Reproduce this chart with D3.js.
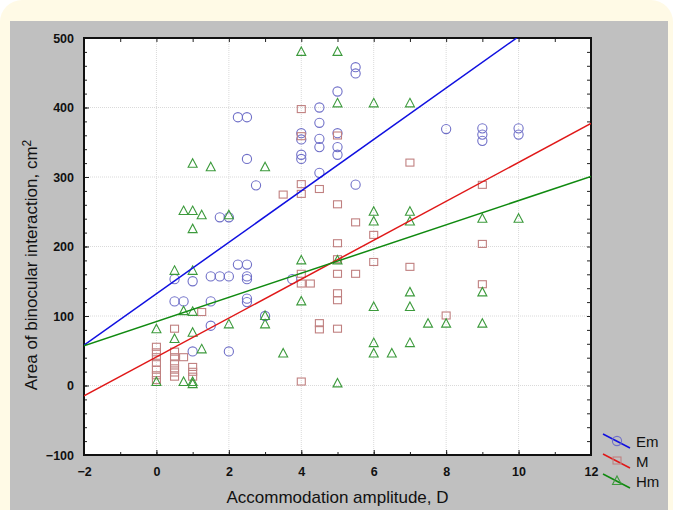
<!DOCTYPE html>
<html>
<head>
<meta charset="utf-8">
<script src="https://d3js.org/d3.v7.min.js"></script>
<style>
  body { margin: 0; background: #fff; }
  svg { display: block; font-family: "Liberation Sans", Arial, sans-serif; }
</style>
</head>
<body>
<div id="chart"></div>
<script>
// data: [accommodation amplitude D, area cm2]
var emPoints = [
  [0.5,153],[1,150],[1.5,157],[1.75,157],[2,157],[2.25,174],[2.5,174],[2.5,157],[2.5,153],
  [0.5,121],[0.75,121],[1.5,121],[2.5,125],[2.5,120],[1.5,86],[3,100],[1,49],[2,49],
  [2.25,386],[2.5,386],[2.5,326],[2.75,288],[1.75,242],[2,242],
  [5.5,458],[5.5,449],[5,423],[4.5,400],[4.5,378],[4,363],[4,354],[4.5,355],[4.5,343],
  [5,363],[5,343],[5,332],[4,332],[4,326],[4.5,306],[5.5,289],[3.75,153],
  [8,369],[9,370],[9,361],[9,352],[10,370],[10,361]
];
var mPoints = [
  [0,55],[0,47],[0,40],[0,32],[0,22],[0,14],[0,7],
  [0.5,81],[0.5,48],[0.5,40],[0.5,31],[0.5,24],[0.5,18],[0.5,12],
  [0.75,40],[1,26],[1,19],[1,12],[1.25,105],
  [4,397],[4,358],[5,359],[7,320],[4,289],[4,275],[3.5,274],[4.5,282],[5,260],
  [5.5,234],[6,216],[5,204],[5,181],[6,177],[7,170],[5,160],[5.5,160],[4,160],
  [4,146],[4.25,146],[5,132],[5,122],[4.5,89],[4.5,80],[5,81],[4,5],
  [9,203],[9,145],[8,100],[9,288]
];
var hmPoints = [
  [1,319],[1.5,314],[3,314],[0.75,251],[1,251],[1.25,245],[2,245],[1,225],
  [4,480],[5,480],[5,406],[6,406],[7,406],
  [6,250],[6,236],[7,250],[7,236],[4,180],[5,180],[4,121],[6,113],[7,134],[7,113],
  [6,61],[6,46],[6.5,46],[7,61],[3.5,46],[5,3],
  [9,134],[7.5,89],[8,89],[9,89],[9,240],[10,240],
  [0.5,165],[1,165],[0.75,107],[1,106],[0,81],[0.5,67],[1,76],[1.25,52],[2,88],
  [3,100],[3,88],[0,5],[0.75,5],[1,5],[1,2]
];
// fitted lines: [intercept, slope]
var emFit = [132, 37];
var mFit = [41, 28];
var hmFit = [92, 17.4];

var seriesNames = ["Em", "M", "Hm"];
var xTicks = [-2, 0, 2, 4, 6, 8, 10, 12];
var yTicks = [-100, 0, 100, 200, 300, 400, 500];

var W = 673, H = 510;
var margin = {left: 84, top: 38, right: 82, bottom: 55};

var svg = d3.select("#chart").append("svg")
  .attr("width", W).attr("height", H);

// cream page with rounded top, grey panel
svg.append("rect").attr("x", 0).attr("y", 0).attr("width", W).attr("height", H + 30)
  .attr("rx", 22).attr("fill", "#fffae6");
svg.append("rect").attr("x", 10).attr("y", 21).attr("width", 658).attr("height", H)
  .attr("fill", "#c0c0c0");

var x = d3.scaleLinear().domain([-2, 12]).range([margin.left, W - margin.right]);
var y = d3.scaleLinear().domain([-100, 500]).range([H - margin.bottom, margin.top]);

// plot background
svg.append("rect")
  .attr("x", x(-2)).attr("y", y(500))
  .attr("width", x(12) - x(-2)).attr("height", y(-100) - y(500))
  .attr("fill", "#fff");

// dotted grid
var grid = svg.append("g").attr("stroke", "#dadada").attr("stroke-dasharray", "1,1");
grid.selectAll("line.gx").data(xTicks.slice(1, -1)).enter().append("line")
  .attr("x1", function(d) { return x(d); }).attr("x2", function(d) { return x(d); })
  .attr("y1", y(500)).attr("y2", y(-100));
grid.selectAll("line.gy").data(yTicks.slice(1, -1)).enter().append("line")
  .attr("y1", function(d) { return y(d); }).attr("y2", function(d) { return y(d); })
  .attr("x1", x(-2)).attr("x2", x(12));

// axes with inward ticks on all four sides
function styleAxis(g) {
  g.select(".domain").remove();
  g.selectAll(".tick line").attr("stroke", "#222");
  g.selectAll(".tick text").attr("fill", "#111").attr("font-size", 12.5).attr("font-weight", "bold");
}
var xMinor = d3.range(-2, 12.01, 1);
var yMinor = d3.range(-100, 500.1, 20);

svg.append("g").attr("transform", "translate(0," + y(-100) + ")")
  .call(d3.axisBottom(x).tickValues(xMinor).tickSize(-3).tickFormat(""))
  .call(styleAxis);
svg.append("g").attr("transform", "translate(0," + y(-100) + ")")
  .call(d3.axisBottom(x).tickValues(xTicks).tickSize(-5).tickPadding(12))
  .call(styleAxis);
svg.append("g").attr("transform", "translate(0," + y(500) + ")")
  .call(d3.axisTop(x).tickValues(xMinor).tickSize(-4).tickFormat(""))
  .call(styleAxis);
svg.append("g").attr("transform", "translate(" + x(-2) + ",0)")
  .call(d3.axisLeft(y).tickValues(yMinor).tickSize(-3).tickFormat(""))
  .call(styleAxis);
svg.append("g").attr("transform", "translate(" + x(-2) + ",0)")
  .call(d3.axisLeft(y).tickValues(yTicks).tickSize(-5).tickPadding(10))
  .call(styleAxis);
svg.append("g").attr("transform", "translate(" + x(12) + ",0)")
  .call(d3.axisRight(y).tickValues(yMinor).tickSize(-4).tickFormat(""))
  .call(styleAxis);

// frame
svg.append("rect")
  .attr("x", x(-2)).attr("y", y(500))
  .attr("width", x(12) - x(-2)).attr("height", y(-100) - y(500))
  .attr("fill", "none").attr("stroke", "#111").attr("stroke-width", 2);

svg.append("clipPath").attr("id", "plotclip").append("rect")
  .attr("x", x(-2)).attr("y", y(500))
  .attr("width", x(12) - x(-2)).attr("height", y(-100) - y(500));

var series = [
  {name: "Em", pts: emPoints, fit: emFit, line: "#1010e0", mark: "#7070c8", shape: "circle"},
  {name: "M",  pts: mPoints,  fit: mFit,  line: "#e01818", mark: "#c08080", shape: "square"},
  {name: "Hm", pts: hmPoints, fit: hmFit, line: "#108a10", mark: "#3c9a3c", shape: "triangle"}
];

function marker(g, shape, color) {
  if (shape === "circle") {
    g.append("circle").attr("r", 4.6).attr("fill", "none").attr("stroke", color).attr("stroke-width", 1.1);
  } else if (shape === "square") {
    g.append("rect").attr("x", -4).attr("y", -4).attr("width", 8).attr("height", 7)
      .attr("fill", "none").attr("stroke", color).attr("stroke-width", 1.1);
  } else {
    g.append("path").attr("d", "M0,-5L4.5,3.5L-4.5,3.5Z")
      .attr("fill", "none").attr("stroke", color).attr("stroke-width", 1.1);
  }
}

var plot = svg.append("g").attr("clip-path", "url(#plotclip)");

// markers first, lines on top
series.forEach(function(s) {
  plot.append("g").selectAll("g").data(s.pts).enter().append("g")
    .attr("transform", function(d) { return "translate(" + x(d[0]) + "," + y(d[1]) + ")"; })
    .each(function() { marker(d3.select(this), s.shape, s.mark); });
});
series.forEach(function(s) {
  var ends = [-2, 12].map(function(v) { return [v, s.fit[0] + s.fit[1] * v]; });
  plot.append("path")
    .datum(ends)
    .attr("fill", "none").attr("stroke", s.line).attr("stroke-width", 1.5)
    .attr("d", d3.line().x(function(d) { return x(d[0]); }).y(function(d) { return y(d[1]); }));
});

// legend
var leg = svg.append("g").attr("transform", "translate(603,434)");
series.forEach(function(s, i) {
  var g = leg.append("g").attr("transform", "translate(0," + (i * 20) + ")");
  g.append("line").attr("x1", 0).attr("y1", 0).attr("x2", 27).attr("y2", 14)
    .attr("stroke", s.line).attr("stroke-width", 1.5);
  var m = g.append("g").attr("transform", "translate(14,7)");
  marker(m, s.shape, s.mark);
  g.append("text").attr("x", 33).attr("y", 13).attr("font-size", 15).attr("fill", "#111").text(s.name);
});

// axis titles
svg.append("text")
  .attr("x", x(5)).attr("y", 503)
  .attr("text-anchor", "middle").attr("font-size", 17).attr("fill", "#111")
  .text("Accommodation amplitude, D");

var yt = svg.append("text")
  .attr("transform", "translate(37,265) rotate(-90)")
  .attr("text-anchor", "middle").attr("font-size", 17).attr("fill", "#111");
yt.append("tspan").text("Area of binocular interaction, cm");
yt.append("tspan").attr("dy", -6).attr("font-size", 12).text("2");
</script>
</body>
</html>
